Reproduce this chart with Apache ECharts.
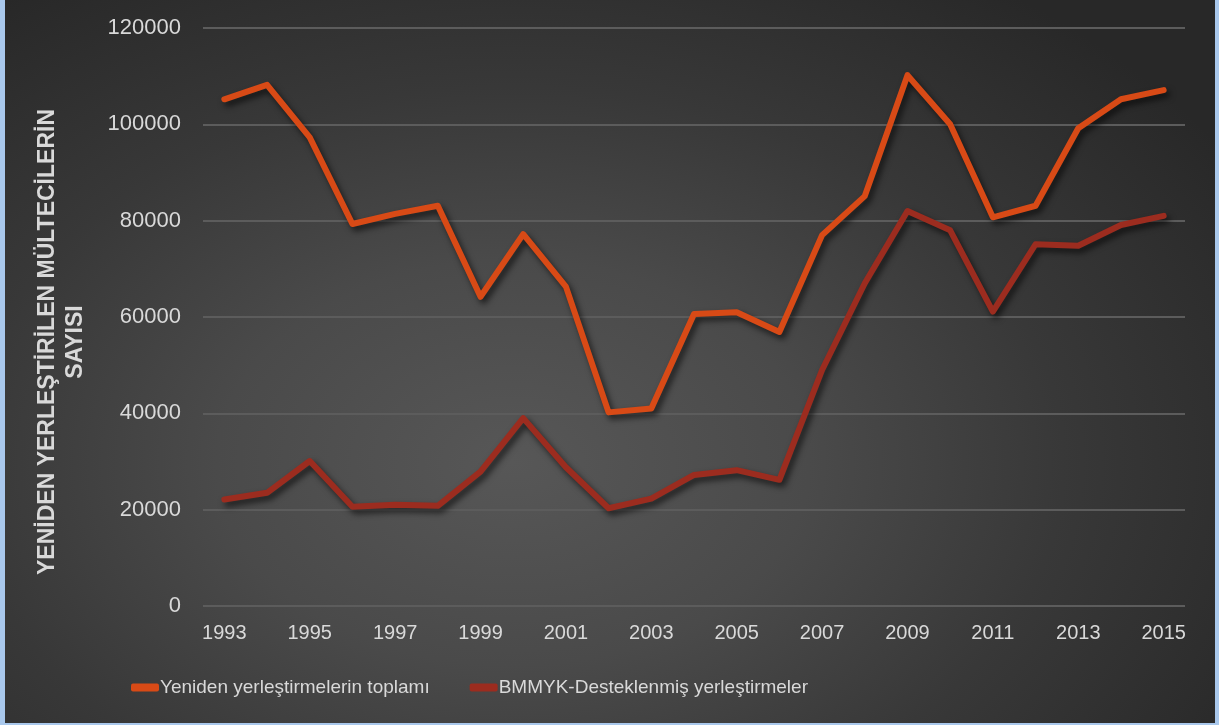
<!DOCTYPE html>
<html>
<head>
<meta charset="utf-8">
<script src="https://cdn.jsdelivr.net/npm/echarts@6/dist/echarts.min.js"></script>
<style>
  html, body { margin: 0; padding: 0; background: #a9c8ec; }
  #chart {
    position: absolute; left: 0; top: 0;
    width: 1210px; height: 723px;
    border-left: 5px solid #a9c8ec; border-right: 4px solid #a9c8ec; border-bottom: 2px solid #a9c8ec;
    background: radial-gradient(ellipse 70% 80% at 42% 64%, #575757 0%, #4a4a4a 35%, #383838 65%, #282828 100%);
  }
</style>
</head>
<body>
<div id="chart"></div>
<script>
const years = ['1993','1994','1995','1996','1997','1998','1999','2000','2001','2002','2003','2004','2005','2006','2007','2008','2009','2010','2011','2012','2013','2014','2015'];
const totalResettlement = [105200,108200,97300,79300,81400,83100,64200,77200,66300,40200,41000,60600,61000,56900,77000,85100,110200,100000,80700,83100,99200,105200,107100];
const unhcrResettlement = [22100,23500,30100,20600,21000,20800,27900,39000,28800,20300,22300,27200,28200,26200,49000,67000,82000,78000,61100,75100,74800,79100,81000];
const seriesNames = ['Yeniden yerleştirmelerin toplamı', 'BMMYK-Desteklenmiş yerleştirmeler'];
const yAxisTitle = 'YENİDEN YERLEŞTİRİLEN MÜLTECİLERİN\nSAYISI';
const colors = ['#d84a16', '#9c2c1f'];

const chart = echarts.init(document.getElementById('chart'));
const shadow = { shadowColor: 'rgba(0,0,0,0.65)', shadowBlur: 6, shadowOffsetX: 3, shadowOffsetY: 4 };
chart.setOption({
  backgroundColor: 'transparent',
  animation: false,
  grid: { left: 198, right: 30, top: 28, bottom: 117 },
  legend: {
    left: 121, bottom: 21,
    itemWidth: 28, itemHeight: 8, itemGap: 40,
    icon: 'roundRect',
    textStyle: { color: '#d9d9d9', fontSize: 19, fontFamily: 'Liberation Sans', padding: [0,0,0,-4] },
    data: seriesNames.map((n, i) => ({ name: n, itemStyle: { color: colors[i] } }))
  },
  xAxis: {
    type: 'category', data: years, boundaryGap: true,
    axisLine: { show: false }, axisTick: { show: false },
    axisLabel: { interval: 1, color: '#d9d9d9', fontSize: 20, fontFamily: 'Liberation Sans', margin: 17 }
  },
  yAxis: {
    type: 'value', min: 0, max: 120000, interval: 20000,
    name: yAxisTitle, nameLocation: 'middle', nameRotate: 90, nameGap: 113,
    nameTextStyle: { color: '#d9d9d9', fontSize: 23, fontWeight: 'bold', fontFamily: 'Liberation Sans', lineHeight: 28, padding: [0, 50, 0, 0] },
    axisLine: { show: false }, axisTick: { show: false },
    axisLabel: { color: '#d9d9d9', fontSize: 22, fontFamily: 'Liberation Sans', margin: 22, formatter: v => String(v) },
    splitLine: { lineStyle: { color: '#5c5c5c', width: 2 } }
  },
  series: [
    { name: seriesNames[0], type: 'line', data: totalResettlement, showSymbol: false, symbol: 'none',
      itemStyle: { color: colors[0] },
      lineStyle: Object.assign({ color: colors[0], width: 6, cap: 'round', join: 'round' }, shadow) },
    { name: seriesNames[1], type: 'line', data: unhcrResettlement, showSymbol: false, symbol: 'none',
      itemStyle: { color: colors[1] },
      lineStyle: Object.assign({ color: colors[1], width: 6, cap: 'round', join: 'round' }, shadow) }
  ]
});
</script>
</body>
</html>
